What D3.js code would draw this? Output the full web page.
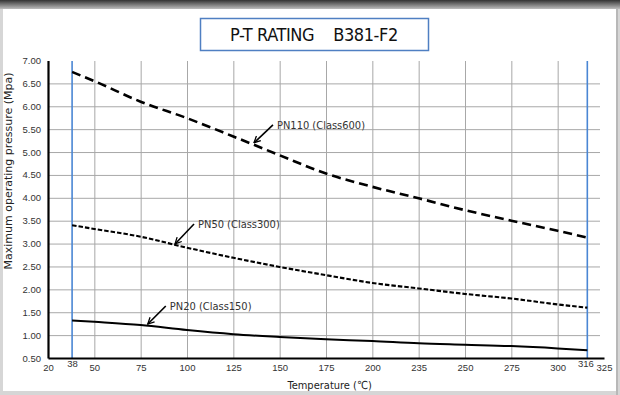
<!doctype html>
<html lang="en">
  <head>
    <meta charset="UTF-8" />
    <title>P-T Rating B381-F2</title>
    <script src="https://d3js.org/d3.v7.min.js"></script>
    <style>
      body {
        margin: 0;
        padding: 0;
        background: #fff;
      }
      svg {
        display: block;
        font-family: 'DejaVu Sans Condensed', 'DejaVu Sans', sans-serif;
      }
      .tick text {
        font-size: 9.5px;
        fill: #333;
      }
      .grid line {
        stroke: #a8a8a8;
        stroke-width: 1px;
      }
      .grid path {
        display: none;
      }
    </style>
  </head>
  <body>
    <svg id="chart" width="620" height="395"></svg>

    <script>
      // axis ticks (the chart labels 25 as "20" and 225 as "235")
      const xTickValues = [25, 38, 50, 75, 100, 125, 150, 175, 200, 225, 250, 275, 300, 316, 325];
      const xTickLabels = ['20', '38', '50', '75', '100', '125', '150', '175', '200', '235', '250', '275', '300', '316', '325'];
      const yTicks = [0.5, 1, 1.5, 2, 2.5, 3, 3.5, 4, 4.5, 5, 5.5, 6, 6.5, 7];

      // temperatures (position on the axis) and pressures
      const temps = [38, 50, 75, 100, 125, 150, 175, 200, 225, 250, 275, 300, 316];
      const pn110 = [6.75, 6.55, 6.1, 5.74, 5.34, 4.93, 4.53, 4.24, 3.99, 3.73, 3.5, 3.28, 3.13];
      const pn50 = [3.4, 3.32, 3.15, 2.91, 2.69, 2.49, 2.31, 2.14, 2.02, 1.9, 1.8, 1.67, 1.6];
      const pn20 = [1.32, 1.29, 1.22, 1.11, 1.02, 0.96, 0.91, 0.87, 0.82, 0.79, 0.76, 0.71, 0.67];
      const seriesNames = ['PN110 (Class600)', 'PN50 (Class300)', 'PN20 (Class150)'];
      const limitTemps = [38, 316];

      const svgRoot = d3.select('#chart');

      // window frame around the picture
      const defs = svgRoot.append('defs');
      const grad = defs
        .append('linearGradient')
        .attr('id', 'topShade')
        .attr('x1', 0)
        .attr('y1', 0)
        .attr('x2', 0)
        .attr('y2', 1);
      grad.append('stop').attr('offset', '0%').attr('stop-color', '#333');
      grad.append('stop').attr('offset', '100%').attr('stop-color', '#bdbdbd');

      svgRoot.append('rect').attr('width', 620).attr('height', 395).attr('fill', '#d6d6d6');
      svgRoot.append('rect').attr('width', 620).attr('height', 9).attr('fill', 'url(#topShade)');
      svgRoot
        .append('rect')
        .attr('x', 3)
        .attr('y', 9)
        .attr('width', 613)
        .attr('height', 382)
        .attr('fill', '#fff');
      svgRoot
        .append('line')
        .attr('x1', 617)
        .attr('x2', 617)
        .attr('y1', 9)
        .attr('y2', 395)
        .attr('stroke', '#9a9a9a');

      const margin = { top: 61, right: 16, bottom: 37, left: 48 };
      const width = 620 - margin.left - margin.right;
      const height = 395 - margin.top - margin.bottom;

      const svg = svgRoot
        .append('g')
        .attr('transform', `translate(${margin.left},${margin.top})`);

      const x = d3.scaleLinear().domain([25, 325]).range([0, width]);
      const y = d3.scaleLinear().domain([0.5, 7]).range([height, -0.5]);

      // gridlines
      svg
        .append('g')
        .attr('class', 'grid')
        .call(
          d3
            .axisLeft(y)
            .tickValues(yTicks.filter((d) => d > 0.5 && d < 7))
            .tickSize(-(width - 4))
            .tickFormat(''),
        );
      svg
        .append('g')
        .attr('class', 'grid')
        .attr('transform', `translate(0,${height})`)
        .call(
          d3
            .axisBottom(x)
            .tickValues(xTickValues.filter((d) => d % 25 === 0 && d > 25 && d < 325))
            .tickSize(-height)
            .tickFormat(''),
        )
        .selectAll('line')
        .attr('stroke', '#9a9a9a');

      // blue limit lines
      svg
        .selectAll('.limit')
        .data(limitTemps)
        .enter()
        .append('line')
        .attr('class', 'limit')
        .attr('x1', (d) => x(d))
        .attr('x2', (d) => x(d))
        .attr('y1', 0)
        .attr('y2', height)
        .attr('stroke', '#4a86d4')
        .attr('stroke-width', 1.6);

      // series lines
      const seriesData = [pn110, pn50, pn20];
      const styles = [
        { w: 2.6, dash: '9,5' },
        { w: 2.1, dash: '4.5,2' },
        { w: 2, dash: null },
      ];
      const line = d3
        .line()
        .x((d) => x(d[0]))
        .y((d) => y(d[1]))
        .curve(d3.curveMonotoneX);

      seriesData.forEach(function (vals, i) {
        svg
          .append('path')
          .datum(temps.map((t, j) => [t, vals[j]]))
          .attr('fill', 'none')
          .attr('stroke', '#000')
          .attr('stroke-width', styles[i].w)
          .attr('stroke-dasharray', styles[i].dash)
          .attr('d', line);
      });

      // axes
      const yAxis = svg
        .append('g')
        .call(
          d3
            .axisLeft(y)
            .tickValues(yTicks)
            .tickSize(0)
            .tickPadding(7)
            .tickFormat(d3.format('.2f')),
        );
      yAxis.select('.domain').attr('stroke', '#000').attr('stroke-width', 2.2);

      const xAxis = svg
        .append('g')
        .attr('transform', `translate(0,${height})`)
        .call(
          d3
            .axisBottom(x)
            .tickValues(xTickValues)
            .tickSize(0)
            .tickPadding(6)
            .tickFormat((d, i) => xTickLabels[i]),
        );
      xAxis.select('.domain').attr('stroke', '#000').attr('stroke-width', 2.2);
      xAxis
        .selectAll('.tick')
        .filter((d) => limitTemps.includes(d))
        .select('text')
        .attr('dy', '0.35em')
        .attr('dx', (d) => (d === 316 ? -2 : 0));

      // axis titles
      svg
        .append('text')
        .attr('transform', 'rotate(-90)')
        .attr('x', -110)
        .attr('y', -36)
        .attr('text-anchor', 'middle')
        .style('font-family', "'DejaVu Sans', sans-serif")
        .style('font-size', '11px')
        .style('fill', '#222')
        .text('Maximum operating pressure (Mpa)');

      svg
        .append('text')
        .attr('x', x(177))
        .attr('y', height + 31)
        .attr('text-anchor', 'middle')
        .style('font-size', '11px')
        .style('fill', '#222')
        .text('Temperature (℃)');

      // series labels with arrows
      defs
        .append('marker')
        .attr('id', 'arrow')
        .attr('viewBox', '0 0 10 10')
        .attr('refX', 9)
        .attr('refY', 5)
        .attr('markerWidth', 5)
        .attr('markerHeight', 5)
        .attr('orient', 'auto')
        .append('path')
        .attr('d', 'M1,1 L9,5 L1,9')
        .attr('fill', 'none')
        .attr('stroke', '#000')
        .attr('stroke-width', 1.6);

      const labelAt = [
        { t: 135.6, v: 5.18, dx: 20, dy: -19 },
        { t: 93, v: 2.97, dx: 20, dy: -21 },
        { t: 78.3, v: 1.22, dx: 19, dy: -19 },
      ];
      labelAt.forEach(function (p, i) {
        const px = x(p.t);
        const py = y(p.v);
        svg
          .append('line')
          .attr('x1', px + p.dx)
          .attr('y1', py + p.dy)
          .attr('x2', px + 1)
          .attr('y2', py - 1)
          .attr('stroke', '#000')
          .attr('stroke-width', 1.6)
          .attr('marker-end', 'url(#arrow)');
        svg
          .append('text')
          .attr('x', px + p.dx + 4)
          .attr('y', py + p.dy + 4)
          .style('font-size', '11px')
          .style('fill', '#333')
          .text(seriesNames[i]);
      });

      // title box
      svgRoot
        .append('rect')
        .attr('x', 200.5)
        .attr('y', 18.5)
        .attr('width', 228)
        .attr('height', 32)
        .attr('fill', '#fff')
        .attr('stroke', '#4f7fc2')
        .attr('stroke-width', 1.5);
      svgRoot
        .append('text')
        .attr('x', 314)
        .attr('y', 41)
        .attr('text-anchor', 'middle')
        .style('font-size', '18px')
        .style('letter-spacing', '-0.4px')
        .style('fill', '#111')
        .attr('xml:space', 'preserve')
        .text('P-T RATING    B381-F2');
    </script>
  </body>
</html>
